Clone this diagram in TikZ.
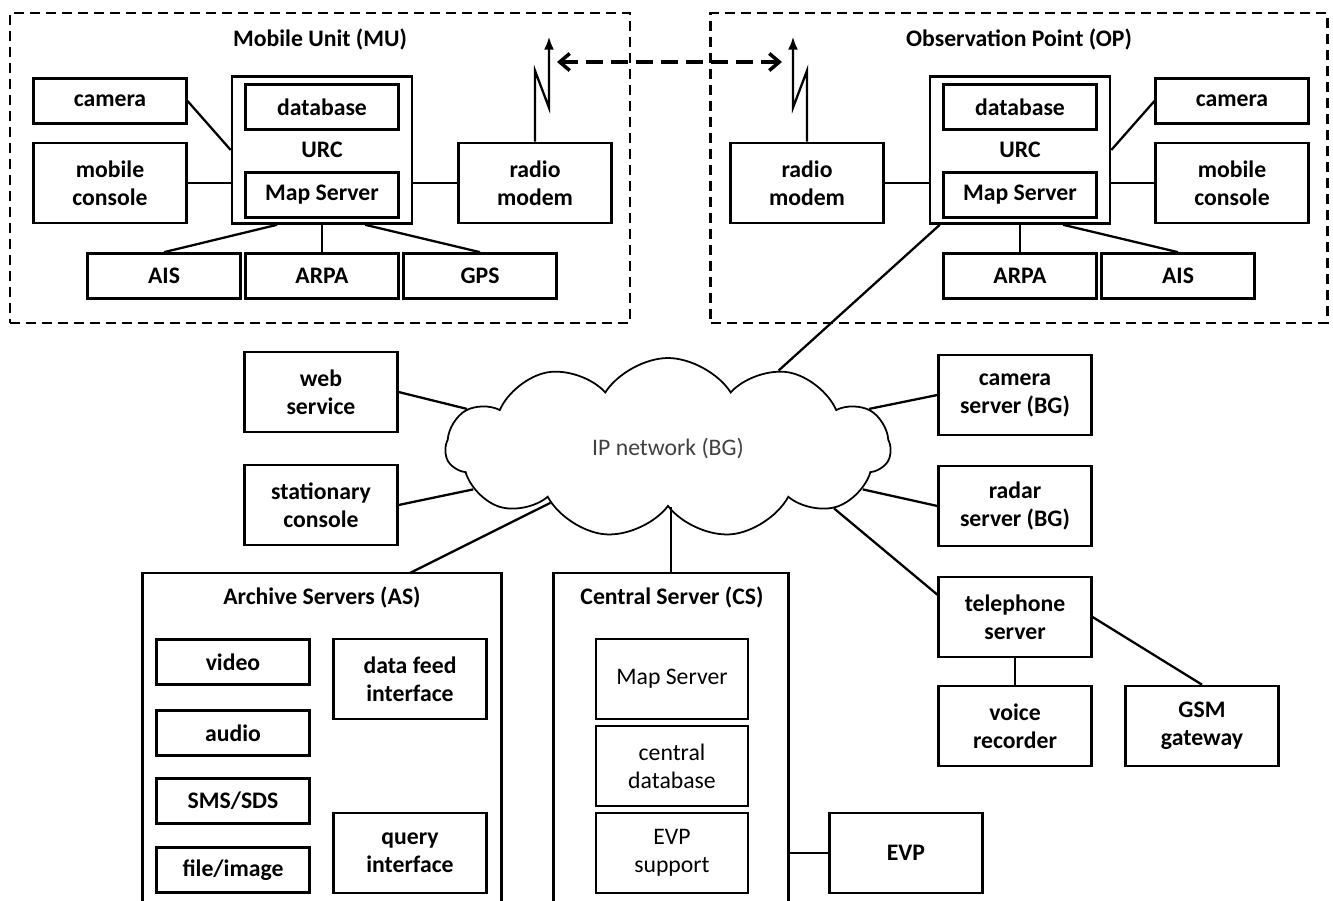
\documentclass[tikz,border=0pt]{standalone}
\usepackage{fontspec}
\setmainfont{Carlito}
\usetikzlibrary{positioning,arrows.meta,shapes.symbols}

\begin{document}
\begin{tikzpicture}[
  x=0.02cm, y=-0.02cm,
  unit/.style={rectangle, draw, line width=1.5pt, minimum width=3.05cm, minimum height=0.9cm, align=center, inner sep=1pt, font=\fontsize{13.5}{16}\selectfont\bfseries},
  tallunit/.style={unit, minimum height=1.6cm},
  urc/.style={unit, minimum width=3.6cm, minimum height=2.94cm},
  sub/.style={rectangle, draw, line width=0.9pt, minimum width=3.04cm, minimum height=1.6cm, align=center, font=\fontsize{13.5}{16}\selectfont},
  group/.style={rectangle, draw, line width=1.5pt, dash pattern=on 0.2cm off 0.12cm},
  server/.style={rectangle, draw, line width=1.5pt, minimum width=#1, minimum height=6.64cm},
  title/.style={font=\fontsize{13.5}{16}\selectfont\bfseries},
  link/.style={line width=1.3pt},
  radio/.style={link, -{Latex[length=0.26cm, width=0.2cm]}},
  wireless/.style={line width=2pt, dash pattern=on 0.34cm off 0.16cm, {Straight Barb[length=0.2cm, width=0.34cm]}-{Straight Barb[length=0.2cm, width=0.34cm]}}
]
\useasboundingbox (0,0) rectangle (1333,901);

% Mobile Unit
\node[group, minimum width=12.4cm, minimum height=6.2cm] (mu) at (320,168) {};
\node[title] at (320,40) {Mobile Unit (MU)};
\node[unit] (mu-cam) at (110,101) {camera};
\node[tallunit] (mu-con) at (110,183) {mobile\\console};
\node[urc] (mu-urc) at (322,150) {URC};
\node[unit] (mu-db) at (322,107) {database};
\node[unit] (mu-map) at (322,195) {Map Server};
\node[tallunit] (mu-modem) at (535,183) {radio\\modem};
\node[unit] (mu-ais) at (164,276) {AIS};
\node[unit] (mu-arpa) at (322,276) {ARPA};
\node[unit] (mu-gps) at (480,276) {GPS};

% Observation Point
\node[group, minimum width=12.34cm, minimum height=6.2cm] (op) at (1019,168) {};
\node[title] at (1019,40) {Observation Point (OP)};
\node[tallunit] (op-modem) at (807,183) {radio\\modem};
\node[urc] (op-urc) at (1020,150) {URC};
\node[unit] (op-db) at (1020,107) {database};
\node[unit] (op-map) at (1020,195) {Map Server};
\node[unit] (op-cam) at (1232,101) {camera};
\node[tallunit] (op-con) at (1232,183) {mobile\\console};
\node[unit] (op-arpa) at (1020,276) {ARPA};
\node[unit] (op-ais) at (1178,276) {AIS};

% radio link
\coordinate (mu-wave) at (557,62);
\coordinate (op-wave) at (782,62);

% IP network
\node[cloud, draw, line width=1pt, cloud puffs=11, cloud puff arc=115, aspect=2.5, minimum width=8.9cm, minimum height=3.6cm, text=black!75, font=\fontsize{13.5}{16}\selectfont] (net) at (668,448) {IP network (BG)};
\node[tallunit] (web) at (321,392) {web\\service};
\node[tallunit] (stat) at (321,505) {stationary\\console};
\node[tallunit] (csrv) at (1015,395) {camera\\server (BG)};
\node[tallunit] (rsrv) at (1015,506) {radar\\server (BG)};
\node[tallunit] (tel) at (1015,617) {telephone\\server};
\node[tallunit] (voice) at (1015,726) {voice\\recorder};
\node[tallunit] (gsm) at (1202,726) {GSM\\gateway};

% Archive Servers
\node[server=7.18cm] (as) at (322,739) {};
\node[title] at (322,597) {Archive Servers (AS)};
\node[unit] (video) at (233,662) {video};
\node[unit] (audio) at (233,733) {audio};
\node[unit] (sms) at (233,801) {SMS/SDS};
\node[unit] (file) at (233,870) {file/image};
\node[tallunit] (feed) at (410,679) {data feed\\interface};
\node[tallunit] (query) at (410,853) {query\\interface};
\coordinate (as-in) at (410,573);

% Central Server
\node[server=4.7cm] (cs) at (671,739) {};
\node[title] at (672,597) {Central Server (CS)};
\node[sub] (cs-map) at (672,679) {Map Server};
\node[sub] (cs-db) at (672,766) {central\\database};
\node[sub] (cs-evp) at (672,853) {EVP\\support};
\node[unit, minimum height=1.6cm] (evp) at (906,853) {EVP};

% MU links
\draw[link] (mu-cam.east) -- (mu-urc.west);
\draw[link] (mu-con.east) -- (mu-con.east -| mu-urc.west);
\draw[link] (mu-urc.east |- mu-modem) -- (mu-modem.west);
\draw[link] (mu-urc.-121) -- (mu-ais.north);
\draw[link] (mu-urc.south) -- (mu-arpa.north);
\draw[link] (mu-urc.-60) -- (mu-gps.north);
\draw[radio] (mu-modem.north) -- ++(0,-71) -- ++(14,37) -- ++(0,-71);

% OP links
\draw[link] (op-modem.east) -- (op-modem.east -| op-urc.west);
\draw[link] (op-urc.east |- op-con) -- (op-con.west);
\draw[link] (op-cam.west) -- (op-urc.east);
\draw[link] (op-urc.south) -- (op-arpa.north);
\draw[link] (op-urc.-60) -- (op-ais.north);
\draw[radio] (op-modem.north) -- ++(0,-71) -- ++(-14,37) -- ++(0,-71);

\draw[wireless] (mu-wave) -- (op-wave);

% network links
\draw[link] (op-urc.-137) -- (net.35);
\draw[link] (web.east) -- (net.169);
\draw[link] (stat.east) -- (net.192);
\draw[link] (as-in) -- (net.205);
\draw[link] (cs.north) -- (cs.north |- net.south);
\draw[link] (csrv.west) -- (net.11);
\draw[link] (rsrv.west) -- (net.-12);
\draw[link] (tel.164) -- (net.-20);
\draw[link] (tel.east) -- (gsm.north);
\draw[link] (tel.south) -- (voice.north);
\draw[link] (cs.east |- evp) -- (evp.west);

\end{tikzpicture}
\end{document}
